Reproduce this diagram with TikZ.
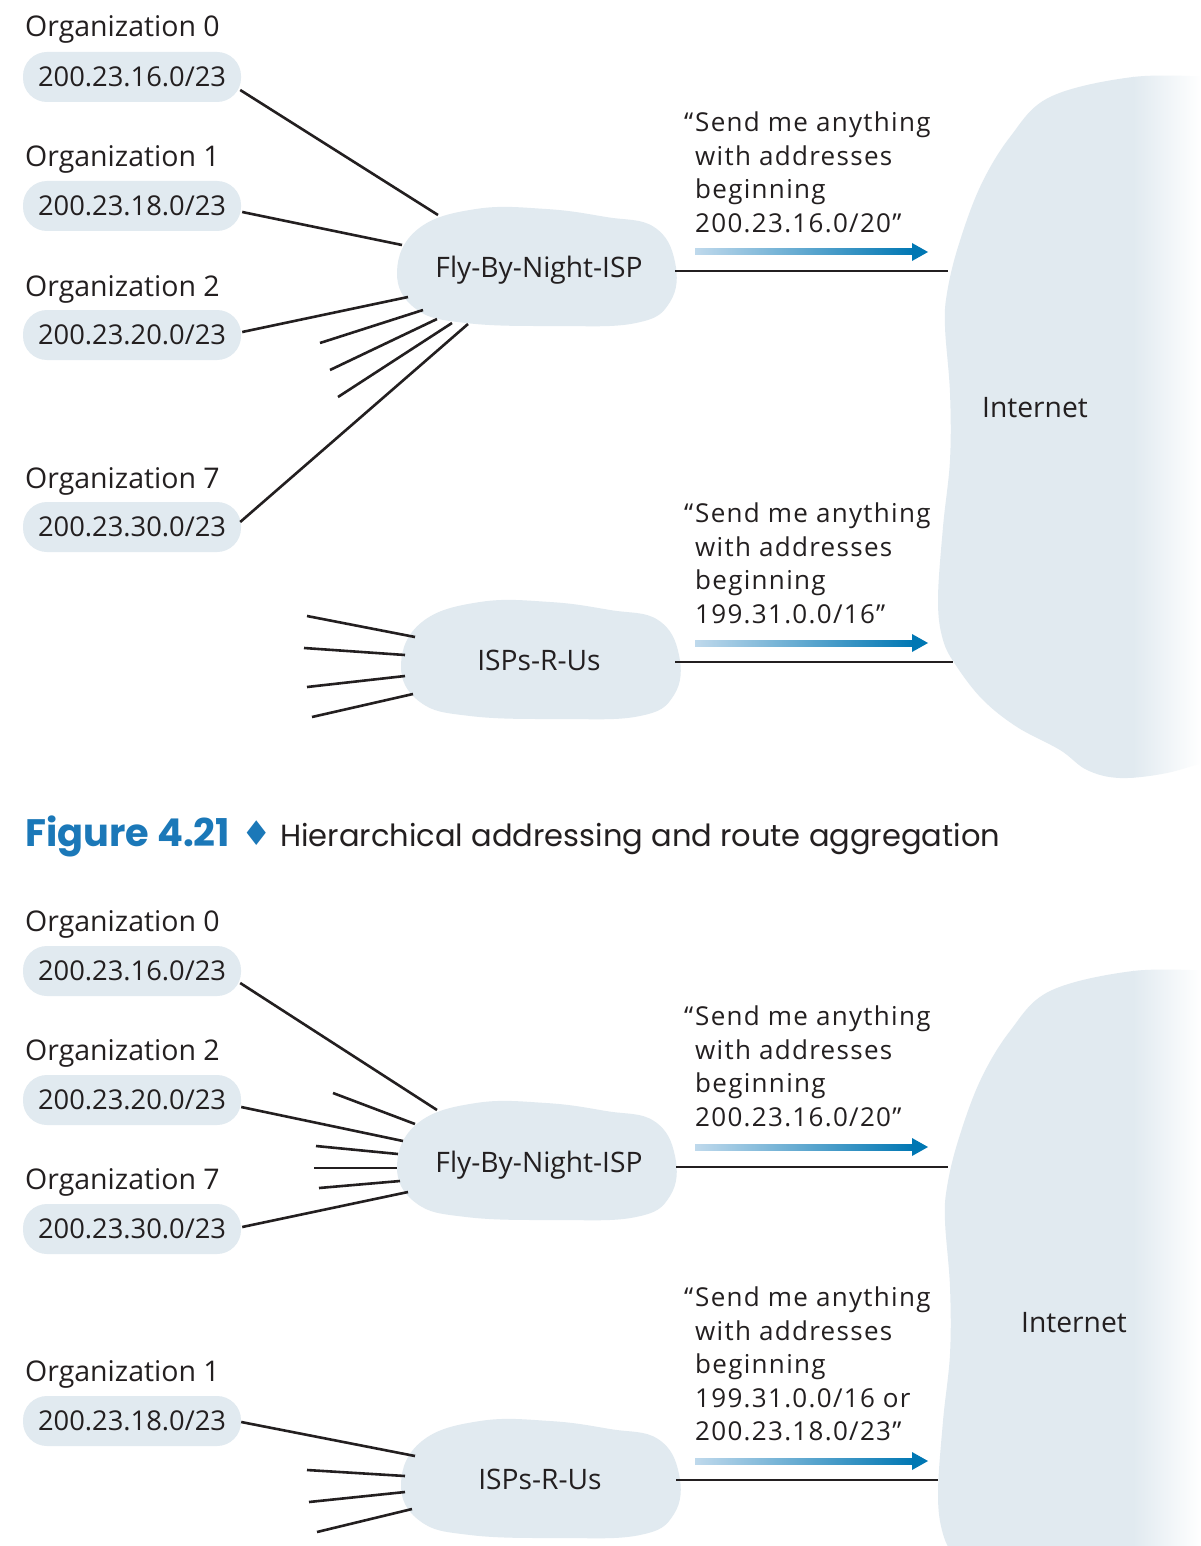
\documentclass[tikz,border=0pt]{standalone}
\usepackage{fontspec}
\setmainfont{Open Sans}
\newfontfamily\quotefont[LetterSpace=5]{Open Sans}
\newfontfamily\capfont{Poppins}
\newfontfamily\symfont{DejaVu Sans}
\usetikzlibrary{calc}
\definecolor{cf}{HTML}{E1EAF0}
\definecolor{ink}{HTML}{231F20}
\definecolor{lb}{HTML}{BFD9EC}
\definecolor{db}{HTML}{0077B3}
\definecolor{capblue}{HTML}{1B78B8}
\tikzset{
  lab/.style={anchor=base west, inner sep=0pt, font=\fontsize{28.5}{30}\selectfont, text=ink},
  pill/.style={fill=cf, rounded corners=24pt, minimum width=218pt, minimum height=50pt, inner sep=0pt, font=\fontsize{27.3}{30}\selectfont, text=ink},
  isplab/.style={inner sep=0pt, font=\fontsize{28.2}{30}\selectfont, text=ink},
  wire/.style={draw=ink, line width=2.6pt},
  quote/.style={anchor=north west, align=left, inner sep=0pt, font=\quotefont\fontsize{26}{33.5}\selectfont, text=ink},
}
\newcommand\ispblob[2]{\fill[cf, shift={(#1,#2)}] plot[smooth cycle, tension=0.7] coordinates {(-139,5)(-118,-38)(-60,-58)(10,-58)(70,-50)(118,-40)(139,-5)(134,35)(100,56)(20,59)(-70,56)(-120,42)};}
\newcommand\netcloud[1]{%
  \begin{scope}[shift={(0,#1)}]
    \begin{scope}
      \clip plot[smooth, tension=0.6] coordinates {(1210,77)(1133,77)(1050,97)(1010,137)(980,187)(958,247)(947,293)(945,327)(950,393)(950,460)(943,527)(938,600)(943,640)(957,667)(983,700)(1017,727)(1060,750)(1087,770)(1120,778)(1167,773)(1210,760)} -- cycle;
      \fill[cf] (930,60) rectangle (1134,800);
      \shade[left color=cf, right color=white] (1133,60) rectangle (1201,800);
    \end{scope}
  \end{scope}}
\newcommand\gradarrow[1]{%
  \begin{scope}[shift={(0,#1)}]
    \shade[left color=lb, right color=db] (695,-3) rectangle (914,3);
    \fill[db] (912,-9) -- (928,0) -- (912,9) -- cycle;
  \end{scope}}
\begin{document}
\begin{tikzpicture}[x=1pt,y=-1pt]
\useasboundingbox (0,0) rectangle (1200,1546);
\fill[white] (0,0) rectangle (1200,1546);
% ---------------- top figure ----------------
\netcloud{0}
\ispblob{536}{267}
\ispblob{540}{660}
\node[lab] (l0a) at (25,37) {Organization 0};
\node[pill] (p0a) at (132,77) {200.23.16.0/23};
\node[lab] (l1a) at (25,167) {Organization 1};
\node[pill] (p1a) at (132,206) {200.23.18.0/23};
\node[lab] (l2a) at (25,296) {Organization 2};
\node[pill] (p2a) at (132,335) {200.23.20.0/23};
\node[lab] (l7a) at (25,488) {Organization 7};
\node[pill] (p7a) at (132,527) {200.23.30.0/23};
\node[isplab] (fbnA) at (539,270) {Fly-By-Night-ISP};
\node[isplab] (ispA) at (539,660) {ISPs-R-Us};
\node[isplab] (netA) at (1035,408) {Internet};
\coordinate (s1a) at (320,343);
\coordinate (s2a) at (330,370);
\coordinate (s3a) at (338,397);
\coordinate (t1a) at (307,616);
\coordinate (t2a) at (304,648);
\coordinate (t3a) at (307,687);
\coordinate (t4a) at (312,717);
\draw[wire] ($(p0a.east)+(-1,13)$) -- ($(fbnA)+(-101,-55)$);
\draw[wire] ($(p1a.east)+(1,6)$) -- ($(fbnA)+(-137,-25)$);
\draw[wire] ($(p2a.east)+(1,-3)$) -- ($(fbnA)+(-131,27)$);
\draw[wire] (s1a) -- ($(fbnA)+(-116,40)$);
\draw[wire] (s2a) -- ($(fbnA)+(-102,49)$);
\draw[wire] (s3a) -- ($(fbnA)+(-87,53)$);
\draw[wire] ($(p7a.east)+(-1,-5)$) -- ($(fbnA)+(-71,54)$);
\draw[wire] (t1a) -- ($(ispA)+(-124,-23)$);
\draw[wire] (t2a) -- ($(ispA)+(-134,-5)$);
\draw[wire] (t3a) -- ($(ispA)+(-134,16)$);
\draw[wire] (t4a) -- ($(ispA)+(-126,34)$);
\draw[wire] ($(fbnA)+(136,1)$) -- ($(netA)+(-87,-137)$);
\draw[wire] ($(ispA)+(136,2)$) -- ($(netA)+(-82,254)$);
\node[quote] (q1) at (695,112) {\llap{“\kern2pt}Send me anything\\with addresses\\beginning\\200.23.16.0/20”};
\node[quote] (q2) at (695,503) {\llap{“\kern2pt}Send me anything\\with addresses\\beginning\\199.31.0.0/16”};
\gradarrow{252}
\gradarrow{643}
% ---------------- caption ----------------
\node[anchor=base west, inner sep=0pt, text=capblue] (figno) at (25,846) {\resizebox{205pt}{!}{\capfont\bfseries Figure 4.21}};
\node[inner sep=0pt, text=capblue, font=\symfont\fontsize{34}{36}\selectfont] (dia) at (257,833) {♦};
\node[anchor=base west, inner sep=0pt, text=ink] (captext) at (280,846) {\resizebox{720pt}{!}{\capfont Hierarchical addressing and route aggregation}};
% ---------------- bottom figure ----------------
\netcloud{894}
\ispblob{536}{1161}
\ispblob{540}{1479}
\node[lab] (l0b) at (25,931) {Organization 0};
\node[pill] (p0b) at (132,971) {200.23.16.0/23};
\node[lab] (l2b) at (25,1060) {Organization 2};
\node[pill] (p2b) at (132,1100) {200.23.20.0/23};
\node[lab] (l7b) at (25,1189) {Organization 7};
\node[pill] (p7b) at (132,1229) {200.23.30.0/23};
\node[lab] (l1b) at (25,1381) {Organization 1};
\node[pill] (p1b) at (132,1421) {200.23.18.0/23};
\node[isplab] (fbnB) at (539,1165) {Fly-By-Night-ISP};
\node[isplab] (ispB) at (540,1479) {ISPs-R-Us};
\node[isplab] (netB) at (1074,1323) {Internet};
\coordinate (s1b) at (333,1093);
\coordinate (s2b) at (316,1146);
\coordinate (s3b) at (314,1168);
\coordinate (s4b) at (319,1188);
\coordinate (t1b) at (307,1470);
\coordinate (t2b) at (309,1502);
\coordinate (t3b) at (317,1532);
\draw[wire] ($(p0b.east)+(-1,12)$) -- ($(fbnB)+(-102,-55)$);
\draw[wire] (s1b) -- ($(fbnB)+(-124,-41)$);
\draw[wire] ($(p2b.east)+(0,7)$) -- ($(fbnB)+(-136,-24)$);
\draw[wire] (s2b) -- ($(fbnB)+(-141,-11)$);
\draw[wire] (s3b) -- ($(fbnB)+(-142,3)$);
\draw[wire] (s4b) -- ($(fbnB)+(-139,16)$);
\draw[wire] ($(p7b.east)+(1,-2)$) -- ($(fbnB)+(-131,27)$);
\draw[wire] ($(p1b.east)+(0,1)$) -- ($(ispB)+(-125,-23)$);
\draw[wire] (t1b) -- ($(ispB)+(-135,-3)$);
\draw[wire] (t2b) -- ($(ispB)+(-135,13)$);
\draw[wire] (t3b) -- ($(ispB)+(-128,30)$);
\draw[wire] ($(fbnB)+(137,2)$) -- ($(netB)+(-126,-156)$);
\draw[wire] ($(ispB)+(136,1)$) -- ($(netB)+(-136,157)$);
\node[quote] (q3) at (695,1006) {\llap{“\kern2pt}Send me anything\\with addresses\\beginning\\200.23.16.0/20”};
\node[quote] (q4) at (695,1287) {\llap{“\kern2pt}Send me anything\\with addresses\\beginning\\199.31.0.0/16 or\\200.23.18.0/23”};
\gradarrow{1147}
\gradarrow{1461}
\end{tikzpicture}
\end{document}
